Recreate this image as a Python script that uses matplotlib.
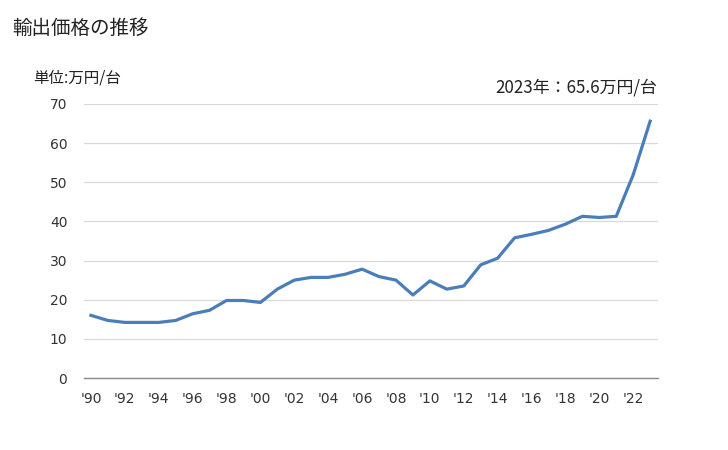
import matplotlib
matplotlib.use('Agg')
import matplotlib.pyplot as plt

years = list(range(1990, 2024))
prices = [16.0, 14.7, 14.2, 14.2, 14.2, 14.7, 16.4, 17.3, 19.8, 19.8,
          19.3, 22.7, 25.0, 25.7, 25.7, 26.5, 27.8, 25.9, 25.0, 21.2,
          24.8, 22.7, 23.5, 28.9, 30.6, 35.8, 36.7, 37.7, 39.3, 41.3,
          41.0, 41.3, 51.9, 65.6]
tick_years = list(range(1990, 2024, 2))
tick_labels = ["'%02d" % (y % 100) for y in tick_years]
y_ticks = [0, 10, 20, 30, 40, 50, 60, 70]

jp = ['Noto Sans CJK JP', 'DejaVu Sans']

fig = plt.figure(figsize=(7.28, 4.5), dpi=100)
ax = fig.add_axes([0.1154, 0.16, 0.7886, 0.609])

ax.plot(years, prices, color='#4a7ebb', lw=2.3, solid_joinstyle='round')

ax.set_xlim(1989.59, 2023.47)
ax.set_ylim(0, 70)
ax.set_yticks(y_ticks)
ax.set_xticks(tick_years)
ax.set_xticklabels(tick_labels)
ax.grid(axis='y', color='#d9d9d9', lw=0.9)
ax.set_axisbelow(True)
for s in ['top', 'right', 'left']:
    ax.spines[s].set_visible(False)
ax.spines['bottom'].set_color('#898989')
ax.spines['bottom'].set_linewidth(1.0)
ax.tick_params(length=0, labelsize=10, labelcolor='#333333')
ax.tick_params(axis='x', pad=10)
ax.tick_params(axis='y', pad=12)

fig.text(12 / 728, 1 - 28 / 450, '輸出価格の推移', family=jp, fontsize=14,
         va='center', ha='left', color='#222222')
fig.text(33 / 728, 1 - 78 / 450, '単位:万円/台', family=jp, fontsize=11.2,
         va='center', ha='left', color='#222222')
fig.text(657 / 728, 1 - 87 / 450, '2023年：65.6万円/台', family=jp, fontsize=12.2,
         va='center', ha='right', color='#222222')

fig.savefig('out.png', dpi=100)
